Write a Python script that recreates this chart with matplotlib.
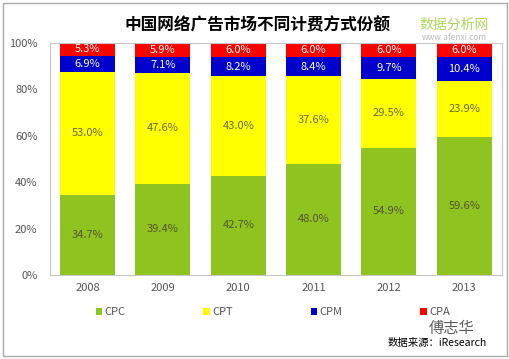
import numpy as np
import matplotlib.pyplot as plt
from matplotlib.patches import Rectangle

plt.rcParams['font.family'] = ['Noto Sans CJK SC', 'DejaVu Sans']

years = ["2008", "2009", "2010", "2011", "2012", "2013"]
cpc = [34.7, 39.4, 42.7, 48.0, 54.9, 59.6]
cpt = [53.0, 47.6, 43.0, 37.6, 29.5, 23.9]
cpm = [6.9, 7.1, 8.2, 8.4, 9.7, 10.4]
cpa = [5.3, 5.9, 6.0, 6.0, 6.0, 6.0]

series = [
    ("CPC", cpc, "#8fc31f", "#555533"),
    ("CPT", cpt, "#ffff00", "#6b6b20"),
    ("CPM", cpm, "#0000cc", "white"),
    ("CPA", cpa, "#ff0000", "white"),
]

fig = plt.figure(figsize=(5.1, 3.59), dpi=100)
ax = fig.add_axes([0.098, 0.234, 0.886, 0.646])

x = np.arange(len(years))
bottom = np.zeros(len(years))
for name, vals, col, tcol in series:
    vals = np.array(vals)
    ax.bar(x, vals, 0.73, bottom=bottom, color=col, label=name)
    for xi, b, v in zip(x, bottom, vals):
        ax.text(xi, b + v / 2, f"{v:.1f}%", ha="center", va="center",
                fontsize=8, color=tcol)
    bottom += vals

ax.set_xlim(-0.5, 5.5)
ax.set_ylim(0, 100)
ax.set_yticks([0, 20, 40, 60, 80, 100])
ax.set_yticklabels([f"{t}%" for t in [0, 20, 40, 60, 80, 100]])
ax.set_xticks(x)
ax.set_xticklabels(years)
ax.tick_params(axis="both", length=0, labelsize=8, labelcolor="#555555")
ax.tick_params(axis="y", pad=9)
ax.tick_params(axis="x", pad=6)
for sp in ax.spines.values():
    sp.set_edgecolor("#c8c8c8")

fig.text(0.505, 0.93, "中国网络广告市场不同计费方式份额", ha="center", va="center",
         fontsize=12, fontweight="bold", color="black")
fig.text(0.89, 0.93, "数据分析网", ha="center", va="center",
         fontsize=10, color="#9acd32", alpha=0.8)
fig.text(0.89, 0.895, "www.afenxi.com", ha="center", va="center",
         fontsize=6, color="#bbbbbb")

leg = fig.legend(loc="center", bbox_to_anchor=(0.535, 0.131), ncol=4,
                 frameon=False, fontsize=8, handlelength=0.6, handleheight=0.6,
                 handletextpad=0.2, columnspacing=7.0)
for t in leg.get_texts():
    t.set_color("#555555")

fig.text(0.955, 0.045, "数据来源：iResearch", ha="right", va="center",
         fontsize=7.5, color="black")
fig.text(0.93, 0.085, "傅志华", ha="right", va="center",
         fontsize=11, color="#333333", alpha=0.8)

fig.patches.append(Rectangle((0.006, 0.008), 0.988, 0.984, transform=fig.transFigure,
                             fill=False, edgecolor="#aaaaaa", lw=1))

fig.savefig("out.png", dpi=100)
